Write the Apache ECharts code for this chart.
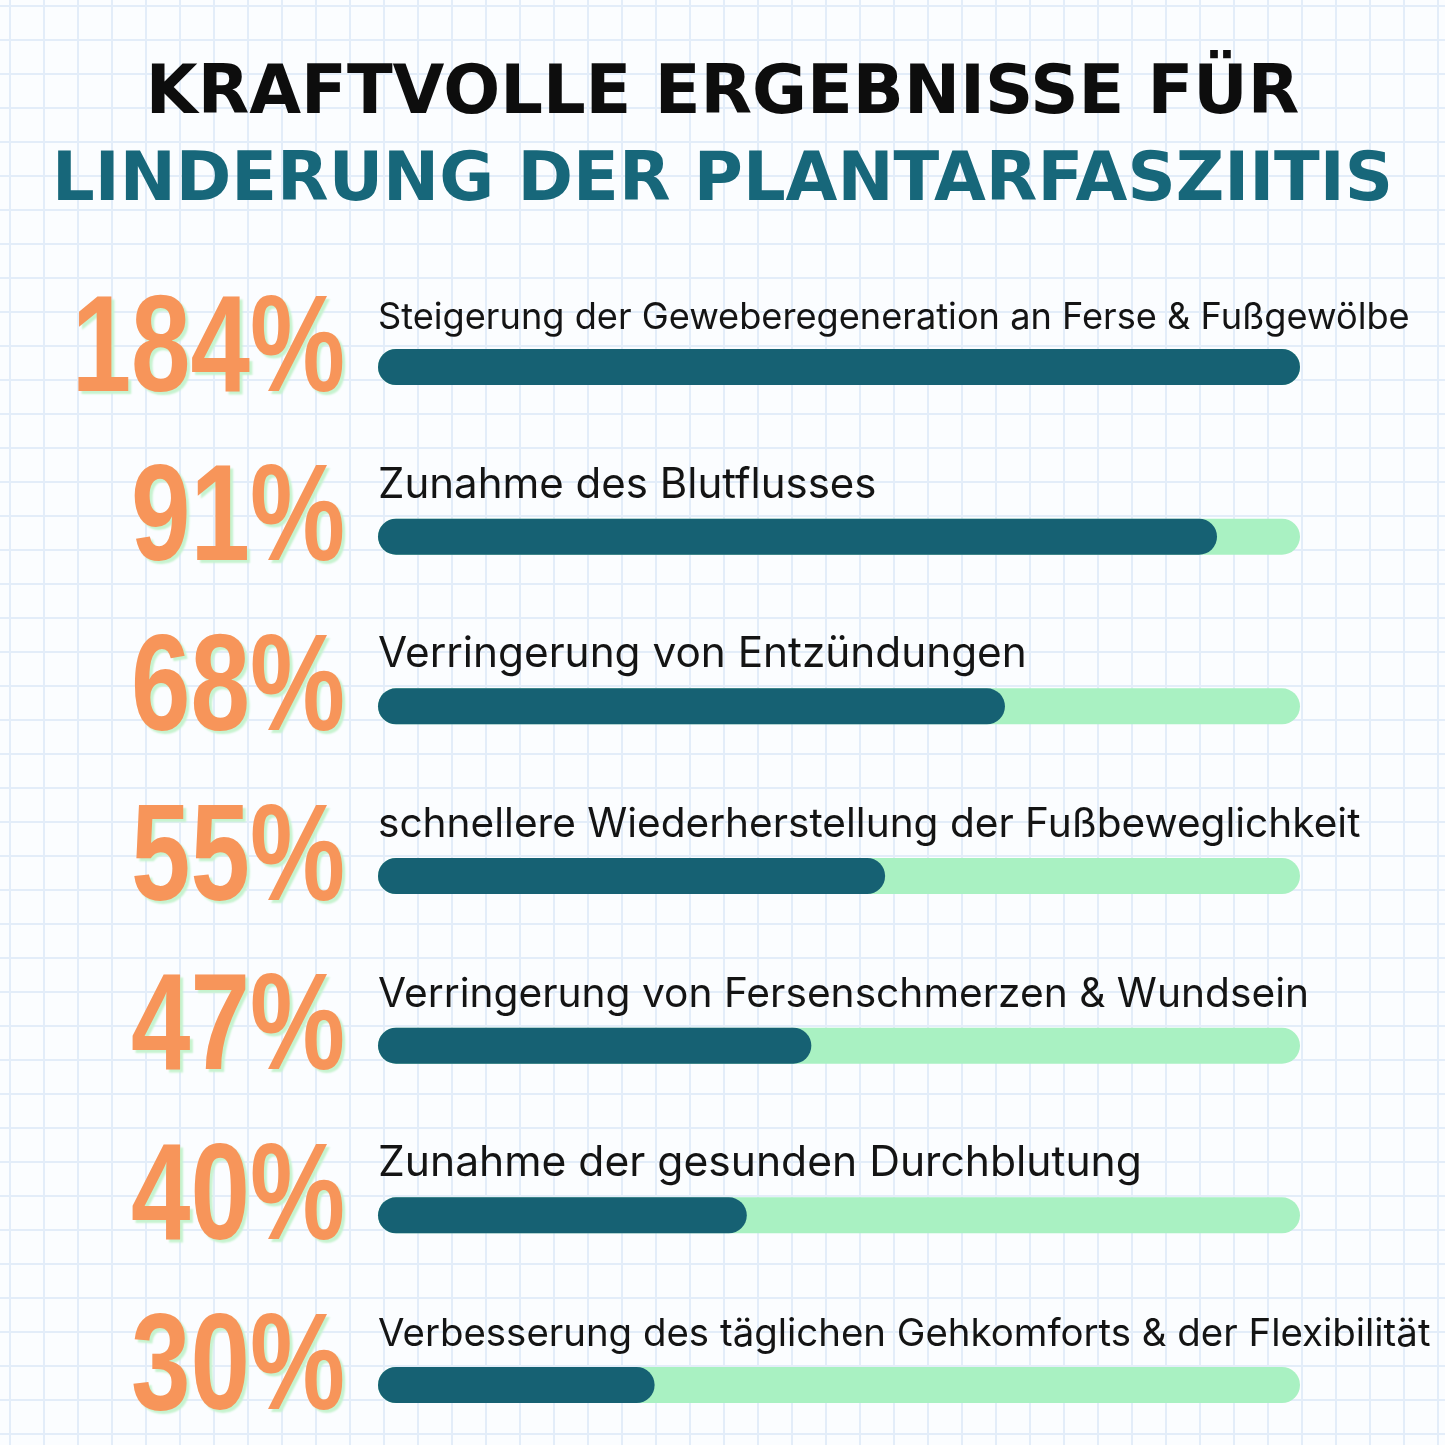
<!DOCTYPE html>
<html><head><meta charset="utf-8">
<script src="https://cdn.jsdelivr.net/npm/echarts@6/dist/echarts.min.js"></script>
<style>html,body{margin:0;padding:0;}#c{width:1445px;height:1445px;}</style>
</head><body><div id="c"></div>
<script>
const titleLine1 = 'KRAFTVOLLE ERGEBNISSE FÜR';
const titleLine2 = 'LINDERUNG DER PLANTARFASZIITIS';
const percents = [184, 91, 68, 55, 47, 40, 30];
const descriptions = [
  'Steigerung der Geweberegeneration an Ferse & Fußgewölbe',
  'Zunahme des Blutflusses',
  'Verringerung von Entzündungen',
  'schnellere Wiederherstellung der Fußbeweglichkeit',
  'Verringerung von Fersenschmerzen & Wundsein',
  'Zunahme der gesunden Durchblutung',
  'Verbesserung des täglichen Gehkomforts & der Flexibilität'
];
const percentLabels = percents.map(p => p + '%');
const barMax = 100;

// style only: per-row description font sizes
const descFontSize = [36.2, 42, 42.3, 40.6, 40.7, 42.6, 38.4];

// grid-paper background pattern
const tile = document.createElement('canvas');
tile.width = 34; tile.height = 34;
const tc = tile.getContext('2d');
tc.fillStyle = '#fbfdff'; tc.fillRect(0, 0, 34, 34);
tc.fillStyle = '#e3edf9';
tc.fillRect(9, 0, 2, 34);
tc.fillRect(0, 5, 34, 2);

const chart = echarts.init(document.getElementById('c'), null, {renderer: 'canvas'});
chart.setOption({
  backgroundColor: {image: tile, repeat: 'repeat'},
  animation: false,
  title: [
    {text: titleLine1, left: 'center', top: 57,
     textStyle: {fontFamily: 'DejaVu Sans', fontWeight: 'bold', fontSize: 67, color: '#0d0d0d'}},
    {text: titleLine2, left: 'center', top: 144,
     textStyle: {fontFamily: 'DejaVu Sans', fontWeight: 'bold', fontSize: 67, color: '#17677a'}}
  ],
  grid: {left: 378, right: 145, top: 367, height: 1018, containLabel: false},
  xAxis: {type: 'value', min: 0, max: barMax, show: false},
  yAxis: {
    type: 'category', inverse: true, data: percentLabels, boundaryGap: false,
    axisLine: {show: false}, axisTick: {show: false}, splitLine: {show: false},
    axisLabel: {show: false}
  },
  series: [{
    type: 'bar', barWidth: 36,
    data: percents.map((p, i) => ({
      value: Math.min(p, barMax), name: descriptions[i],
      label: {fontSize: descFontSize[i], position: [0, -31 - (descFontSize[i] - 36) * 0.45]}
    })),
    itemStyle: {color: '#166173', borderRadius: 18},
    showBackground: true,
    backgroundStyle: {color: '#a9f1c2', borderRadius: 18},
    label: {
      show: true, position: [0, -31], verticalAlign: 'middle', align: 'left',
      formatter: p => descriptions[p.dataIndex],
      fontFamily: 'Inter', fontSize: 36, color: '#141414'
    }
  }, {
    type: 'custom',
    data: percents.map((p, i) => [0, percentLabels[i]]),
    renderItem: function (params, api) {
      const pt = api.coord([0, api.value(1)]);
      return {
        type: 'text',
        x: pt[0] - 33, y: pt[1] - 14,
        scaleX: 0.78,
        style: {
          text: percentLabels[params.dataIndex],
          fontFamily: 'Liberation Sans', fontWeight: 'bold', fontSize: 137,
          fill: '#f7955a', align: 'right', verticalAlign: 'middle',
          textShadowColor: '#c6f3cf', textShadowOffsetX: 3, textShadowOffsetY: 3, textShadowBlur: 2
        }
      };
    }
  }]
});
</script></body></html>
